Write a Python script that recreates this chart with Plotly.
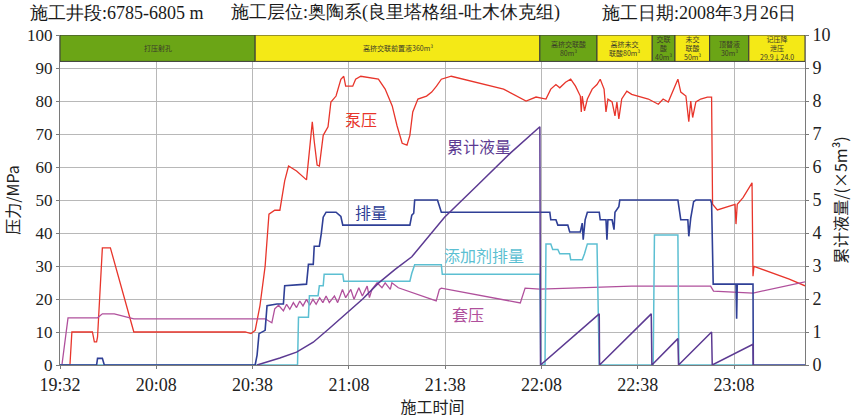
import plotly.graph_objects as go

# ---- time axis (minutes after the first reading) ----
tick_pos = [0, 30, 60, 90, 120, 150, 180, 210]
tick_text = ["19:32", "20:08", "20:38", "21:08", "21:38", "22:08", "22:38", "23:08"]
x_end = 232.1

# ---- treatment stages ----
stage_start = [0, 60.8, 149.5, 167.3, 184.5, 191.6, 202.4, 214.6]
stage_end = [60.8, 149.5, 167.3, 184.5, 191.6, 202.4, 214.6, 232.1]
stage_name = ["打压射孔", "高挤交联前置液360m³", "高挤交联酸<br>80m³", "高挤未交<br>联酸80m³",
              "交联<br>酸<br>40m³", "未交<br>联酸<br>50m³", "顶替液<br>30m³", "记压降<br>泄压<br>29.9↓24.0"]
stage_color = ["#6ba516", "#f4e916", "#6ba516", "#f4e916", "#6ba516", "#f4e916", "#6ba516", "#f4e916"]

# ---- 泵压 (MPa) ----
pump_t = [0, 3.1, 3.7, 10.1, 10.7, 11.4, 11.7, 13.2, 15.7, 23.0, 57.7, 59.5, 60.8, 62.3, 63.9, 65.1,
          66.9, 68.5, 70.0, 71.2, 73.7, 76.8, 77.7, 78.6, 79.2, 80.1, 80.8, 82.0, 83.5, 84.4, 86.0,
          87.5, 88.4, 89.0, 91.2, 92.1, 93.7, 99.2, 101.3, 103.5, 105.0, 106.6, 108.1, 109.0, 109.9,
          111.5, 114.2, 115.8, 117.3, 118.8, 121.9, 129.9, 138.2, 145.2, 148.3, 151.4, 152.9, 154.5,
          155.7, 157.5, 159.1, 160.6, 162.1, 162.4, 162.7, 163.4, 164.3, 165.8, 167.3, 168.3, 169.5,
          170.1, 170.7, 172.0, 172.9, 173.5, 174.1, 175.0, 176.6, 178.1, 183.3, 186.4, 187.9, 189.5,
          191.3, 192.5, 193.4, 195.0, 195.9, 196.5, 197.1, 198.1, 199.6, 201.7, 203.0, 203.3, 204.8,
          208.8, 210.3, 210.6, 211.0, 212.8, 215.6, 215.9, 216.2, 227.2, 232.1]
pump_p = [0, 0, 10, 10, 7, 7, 8.5, 35.5, 35.5, 10, 10, 9.5, 10.5, 18, 29.9, 45.7,
          46.9, 46.9, 55.8, 60.3, 58.8, 56.1, 64.8, 73.7, 67.8, 60.6, 60.3, 69.6, 72.2, 79.7, 81.5,
          86.6, 87.5, 84.5, 84.5, 86.6, 87.5, 86.6, 83.6, 78.5, 72.5, 67.2, 66.6, 69.6, 76.7,
          80.6, 81.5, 82.7, 84.5, 86.6, 87.5, 85.7, 83.6, 80.0, 81.2, 80.6, 83.6, 85.0,
          84.0, 85.7, 86.6, 84.5, 81.5, 76.7, 81.5, 77.0, 80.6, 83.6, 85.0, 86.6, 83.6,
          76.7, 80.6, 79.7, 75.5, 79.7, 74.6, 80.6, 83.0, 82.0, 80.6, 79.0, 80.6, 79.7,
          83.6, 86.6, 82.7, 81.5, 73.7, 80.0, 75.0, 79.7, 80.6, 81.2, 81.2, 48.7, 47.0,
          48.4, 48.7, 42.7, 48.7, 50.7, 55.2, 26.9, 29.9, 26.0, 24.0]

# ---- 套压 (MPa) ----
casing_t = [0, 0.6, 2.5, 11.7, 13.2, 16.9, 23.0, 58.3, 60.8, 63.9, 66.0, 66.9,
            68.1, 69.6, 70.6, 71.6, 72.7, 73.7, 74.7, 75.7, 76.8, 77.8, 78.8, 79.8, 80.9, 81.9,
            82.9, 83.9, 85.5, 86.5, 88.0, 89.0, 90.6, 91.6, 93.1, 94.2, 95.7, 96.4, 97.2, 98.8,
            100.3, 101.3, 102.9, 103.4, 105.4, 117.2, 118.2, 118.8, 143.4, 144.9, 149.5, 178.1,
            202.7, 203.6, 215.9, 232.1]
casing_p = [0, 0, 14.3, 14.3, 15.5, 15.5, 14.0, 14.0, 13.8, 14.0, 12.8, 17.0,
            18.1, 16.4, 18.4, 16.9, 18.9, 17.4, 19.4, 17.9, 19.9, 18.1, 19.9, 18.4, 20.4, 18.9,
            20.9, 18.9, 20.9, 18.9, 22.9, 20.4, 22.9, 19.9, 23.4, 20.9, 23.9, 20.4, 22.9, 24.9,
            23.4, 24.9, 22.9, 24.9, 23.4, 19.4, 22.9, 23.3, 18.8, 23.3, 23.0, 23.9,
            23.9, 22.4, 21.8, 25.2]

# ---- 排量 ----
rate_t = [0, 11.4, 11.7, 13.2, 13.8, 60.8, 61.4, 62.0, 63.9, 64.5, 67.6, 69.6, 70.0, 76.8, 77.4,
          78.9, 79.2, 80.8, 81.4, 82.0, 82.9, 86.0, 87.5, 88.1, 109.0, 109.6, 110.2, 110.5, 117.6,
          118.2, 118.8, 152.6, 152.9, 154.5, 155.1, 158.2, 158.8, 162.1, 162.7, 163.0, 163.6, 164.3,
          168.0, 168.3, 170.1, 170.4, 170.7, 172.0, 172.6, 172.9, 174.1, 174.4, 192.5, 192.8, 193.4,
          195.6, 195.9, 196.5, 197.4, 198.1, 202.7, 203.0, 203.5, 210.6, 210.8, 211.0, 215.9, 216.0,
          232.1]
rate_v = [0, 0, 2, 2, 0, 0, 3, 9.5, 10.5, 18, 18.5, 18.5, 24, 24.5, 30.5,
          30.5, 36, 36, 39.8, 44.8, 46.3, 46.3, 45, 42.4, 42.4, 45.4, 46, 50, 50,
          48, 46.3, 46.3, 44, 44, 42.4, 42.4, 40.3, 40.3, 43, 38, 44, 46.3,
          46.3, 44, 44, 38, 44, 44, 41, 46.3, 48, 50, 50, 48, 44,
          44, 39, 44.5, 49.5, 50, 50, 49, 24.5, 24.5, 14, 24.5, 24.5, 0,
          0]

# ---- 添加剂排量 ----
add_t = [0, 74.0, 74.3, 77.4, 77.7, 80.4, 80.8, 82.0, 82.3, 88.1, 88.4, 109.0, 109.6, 110.5,
         118.8, 119.1, 149.5, 149.8, 151.1, 151.4, 152.9, 153.5, 155.1, 155.7, 158.8, 159.1,
         162.7, 163.4, 164.3, 167.3, 168.0, 184.8, 185.2, 192.5, 192.8, 216.0]
add_v = [0, 0, 14.5, 14.5, 21, 21, 24, 24, 27.5, 27.5, 25.4, 25.4, 27.8, 30.4,
         30.4, 27.5, 27.5, 0, 0, 36.7, 36.7, 35, 35, 33.7, 33.7, 31.9,
         31.9, 33.7, 36.7, 36.7, 0, 0, 39.4, 39.4, 0, 0]

# ---- 累计液量 (×5 m³) ----
vol_t = [61.4, 68.5, 73.7, 78.9, 83.8, 89.0, 94.3, 99.2, 104.4, 109.6, 119.8, 129.9, 140.3,
         149.5, 149.7, 168.0, 168.1, 184.2, 184.4, 192.5, 192.7, 203.0, 203.2, 215.9, 216.0]
vol_v = [0, 0.21, 0.39, 0.69, 1.1, 1.55, 2.0, 2.48, 2.9, 3.28, 4.48, 5.43, 6.42,
         7.22, 0, 1.55, 0, 1.55, 0, 0.8, 0, 1.0, 0, 0.63, 0]

C_PUMP = "#e8352b"
C_CASING = "#b0509c"
C_RATE = "#2f3f96"
C_ADD = "#5cbfd2"
C_VOL = "#5c3a92"

SERIF = "Liberation Serif"
CJK = "Noto Sans CJK SC"

# plot area in pixels (used to place the header line)
L_MARGIN, R_MARGIN = 60, 44
PLOT_W = 860 - L_MARGIN - R_MARGIN

fig = go.Figure()
fig.add_trace(go.Scatter(x=pump_t, y=pump_p, mode="lines", line=dict(color=C_PUMP, width=1.3), name="泵压"))
fig.add_trace(go.Scatter(x=casing_t, y=casing_p, mode="lines", line=dict(color=C_CASING, width=1.3), name="套压"))
fig.add_trace(go.Scatter(x=add_t, y=add_v, mode="lines", line=dict(color=C_ADD, width=1.5), name="添加剂排量"))
fig.add_trace(go.Scatter(x=rate_t, y=rate_v, mode="lines", line=dict(color=C_RATE, width=1.6), name="排量"))
fig.add_trace(go.Scatter(x=vol_t, y=vol_v, mode="lines", line=dict(color=C_VOL, width=1.5),
                         name="累计液量", yaxis="y2"))

# stage bar across the top of the plot
for s, e, name, col in zip(stage_start, stage_end, stage_name, stage_color):
    fig.add_shape(type="rect", xref="x", yref="y", x0=s, x1=e, y0=92, y1=100,
                  fillcolor=col, line=dict(color="#3a3a3a", width=1), layer="above")
    fig.add_annotation(x=(s + e) / 2, y=96, xref="x", yref="y", text=name, showarrow=False,
                       font=dict(family=CJK, size=7, color="#3a3a2a"), align="center")

# curve labels
labels = [("泵压", 93.7, 74.6, C_PUMP), ("累计液量", 130.5, 66.3, C_VOL), ("排量", 97.0, 46.3, C_RATE),
          ("添加剂排量", 132.0, 33.4, C_ADD), ("套压", 127.0, 15.5, C_CASING)]
for txt, lx, ly, col in labels:
    fig.add_annotation(x=lx, y=ly, xref="x", yref="y", text=txt, showarrow=False,
                       font=dict(family=CJK, size=16, color=col))

# header line
header = [("施工井段:6785-6805 m", 28), ("施工层位:奥陶系(良里塔格组-吐木休克组)", 232), ("施工日期:2008年3月26日", 608)]
for txt, px in header:
    fig.add_annotation(x=(px - L_MARGIN) / PLOT_W, y=1, xref="paper", yref="paper", yshift=10,
                       xanchor="left", yanchor="bottom", text=txt, showarrow=False,
                       font=dict(family=SERIF, size=18, color="#1a1a1a"))

fig.update_layout(
    width=860, height=418,
    margin=dict(l=L_MARGIN, r=R_MARGIN, t=35, b=48),
    paper_bgcolor="white", plot_bgcolor="white",
    showlegend=False,
    xaxis=dict(range=[0, x_end], tickvals=tick_pos, ticktext=tick_text,
               showgrid=True, gridcolor="#b8b8b8", gridwidth=1, zeroline=False,
               showline=True, linecolor="#7a7a7a", ticks="outside", ticklen=3, tickcolor="#7a7a7a",
               tickfont=dict(family=SERIF, size=18, color="#222"),
               title=dict(text="施工时间", font=dict(family=CJK, size=16, color="#222"), standoff=0)),
    yaxis=dict(range=[0, 100], tickvals=list(range(0, 101, 10)), showgrid=True, gridcolor="#b8b8b8",
               gridwidth=1, zeroline=False, showline=True, linecolor="#7a7a7a",
               ticks="outside", ticklen=3, tickcolor="#7a7a7a",
               tickfont=dict(family=SERIF, size=17, color="#222"),
               title=dict(text="压力/MPa", font=dict(family=CJK, size=16, color="#222"), standoff=4)),
    yaxis2=dict(range=[0, 10], tickvals=list(range(0, 11)), overlaying="y", side="right",
                showgrid=False, zeroline=False, showline=True, linecolor="#7a7a7a",
                ticks="outside", ticklen=3, tickcolor="#7a7a7a",
                tickfont=dict(family=SERIF, size=18, color="#222"),
                title=dict(text="累计液量/(×5m³)", font=dict(family=CJK, size=16, color="#222"), standoff=6)),
)

fig.write_html("out.html")
